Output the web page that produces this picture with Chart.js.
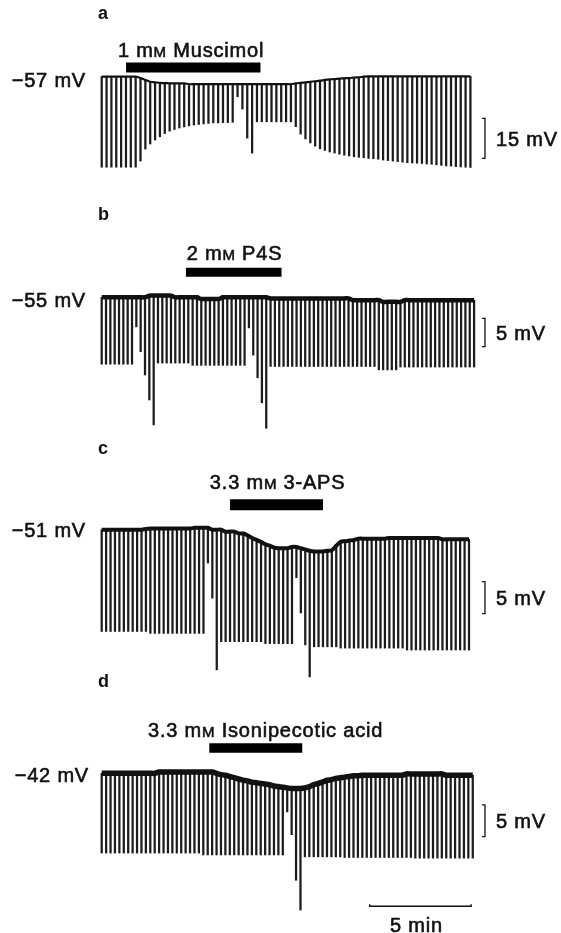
<!DOCTYPE html>
<html>
<head>
<meta charset="utf-8">
<script src="https://cdn.jsdelivr.net/npm/chart.js@4.4.1/dist/chart.umd.min.js"></script>
<style>
  html, body { margin: 0; padding: 0; background: #fff; }
  #fig { position: relative; width: 561px; height: 933px; overflow: hidden; }
  #fig canvas { position: absolute; left: 0; }
</style>
</head>
<body>
<div id="fig"></div>
<script>
// ---- data ----
const panelLetters = ['a', 'b', 'c', 'd'];
const restMv = [-57, -55, -51, -42];
const restLabels = ['\u221257 mV', '\u221255 mV', '\u221251 mV', '\u221242 mV'];
const drugLabels = ['1 mM Muscimol', '2 mM P4S', '3.3 mM 3-APS', '3.3 mM Isonipecotic acid'];
// drug application, minutes from first sweep
const drugOn = [1.2, 4.15, 6.32, 5.3];
const drugOff = [7.82, 8.86, 10.9, 9.88];
const scaleMv = [15, 5, 5, 5];
const scaleLabels = ['15 mV', '5 mV', '5 mV', '5 mV'];
const timeBarMin = 5;
const timeBarLabel = '5 min';
// interval between current pulses (min)
const sweepMin = [0.239, 0.2133, 0.218, 0.2176];

// membrane potential before each pulse (mV)
const aBase = [
  -57.0, -57.0, -57.0, -57.0, -57.0, -57.0, -57.0, -57.0, -57.5, -58.2,
  -58.9, -59.1, -59.3, -59.4, -59.5, -59.5, -59.5, -59.5, -59.8, -59.8,
  -59.8, -59.8, -59.8, -59.8, -59.8, -59.8, -59.8, -59.8, -59.8, -59.8,
  -59.8, -59.8, -59.8, -59.8, -59.8, -59.8, -59.8, -59.8, -59.8, -59.8,
  -59.5, -59.3, -59.1, -58.9, -58.7, -58.5, -58.2, -58.0, -57.9, -57.7,
  -57.6, -57.5, -57.3, -57.2, -57.0, -56.9, -56.9, -56.9, -56.9, -56.9,
  -56.9, -56.9, -56.9, -56.9, -56.9, -56.9, -56.9, -56.9, -56.9, -56.9,
  -56.9, -56.9, -56.9, -56.9, -56.9, -56.9, -56.9
];
// potential at the end of each pulse (mV)
const aPeak = [
  -90.9, -90.9, -90.9, -90.9, -90.9, -90.9, -90.9, -90.9, -88.6, -84.1,
  -82.2, -80.7, -79.5, -78.3, -77.4, -76.8, -76.2, -75.8, -75.4, -75.1,
  -74.9, -74.7, -74.5, -74.3, -74.3, -74.2, -74.2, -74.1, -64.5, -69.1,
  -80.0, -85.6, -73.9, -73.9, -73.9, -73.9, -73.9, -73.9, -73.9, -73.9,
  -75.7, -78.5, -80.3, -81.8, -83.0, -84.0, -84.6, -85.2, -85.6, -86.0,
  -86.4, -86.7, -87.0, -87.2, -87.4, -87.6, -87.7, -87.9, -88.2, -88.4,
  -88.6, -88.8, -89.0, -89.2, -89.3, -89.4, -89.5, -89.7, -89.8, -90.0,
  -90.2, -90.4, -90.5, -90.7, -90.8, -90.9, -91.0
];

const bBase = [
  -55.0, -55.0, -55.0, -55.0, -55.0, -55.0, -55.0, -55.0, -55.0, -55.0,
  -55.0, -54.7, -54.7, -54.7, -54.7, -54.7, -54.7, -55.0, -55.0, -55.0,
  -55.0, -55.0, -55.0, -55.3, -55.3, -55.3, -55.3, -55.3, -55.0, -55.0,
  -55.0, -55.0, -55.0, -55.0, -55.0, -55.0, -55.0, -55.0, -55.0, -55.2,
  -55.2, -55.2, -55.2, -55.2, -55.2, -55.2, -55.2, -55.2, -55.2, -55.2,
  -55.2, -55.2, -55.2, -55.2, -55.2, -55.2, -55.2, -55.2, -55.5, -55.5,
  -55.5, -55.5, -55.5, -55.5, -55.5, -55.8, -55.8, -55.8, -55.8, -55.8,
  -55.5, -55.5, -55.5, -55.5, -55.5, -55.5, -55.5, -55.5, -55.5, -55.5,
  -55.5, -55.5, -55.5, -55.5, -55.5, -55.5, -55.5
];
const bPeak = [
  -66.8, -66.8, -66.8, -66.8, -66.8, -66.8, -66.8, -66.8, -60.2, -64.6,
  -68.7, -73.1, -77.5, -66.6, -66.6, -66.6, -66.6, -66.6, -66.6, -66.6,
  -66.6, -67.0, -67.0, -67.0, -67.0, -67.0, -67.0, -67.0, -67.0, -67.0,
  -67.0, -67.0, -67.0, -67.0, -60.4, -65.2, -69.2, -73.6, -78.1, -67.2,
  -67.2, -67.2, -67.2, -67.2, -67.2, -67.2, -67.2, -67.2, -67.2, -67.2,
  -67.2, -67.2, -67.2, -67.2, -67.2, -67.2, -67.2, -67.2, -67.2, -67.2,
  -67.2, -67.2, -67.2, -67.2, -67.8, -67.8, -67.8, -67.8, -67.8, -67.3,
  -67.3, -67.3, -67.3, -67.3, -67.3, -67.3, -67.3, -67.3, -67.3, -67.3,
  -67.3, -67.3, -67.3, -67.3, -67.3, -67.3, -67.3
];

const cBase = [
  -51.0, -51.0, -51.0, -51.0, -51.0, -51.0, -51.0, -51.0, -51.0, -51.0,
  -50.9, -50.8, -50.8, -50.8, -50.8, -50.8, -50.8, -50.8, -50.8, -50.8,
  -50.8, -50.7, -50.7, -50.7, -50.7, -51.0, -51.0, -51.0, -51.3, -51.3,
  -51.3, -51.6, -51.6, -51.9, -52.3, -52.6, -52.9, -53.3, -53.5, -53.8,
  -53.9, -53.9, -53.9, -53.7, -53.7, -53.9, -54.1, -54.3, -54.4, -54.4,
  -54.4, -54.3, -54.2, -53.5, -52.9, -52.8, -52.7, -52.6, -52.4, -52.4,
  -52.4, -52.4, -52.4, -52.4, -52.4, -52.3, -52.3, -52.3, -52.3, -52.3,
  -52.3, -52.3, -52.3, -52.3, -52.3, -52.3, -52.3, -52.5, -52.5, -52.5,
  -52.5, -52.5, -52.5, -52.5
];
const cPeak = [
  -66.9, -66.9, -66.9, -66.9, -66.9, -66.9, -66.9, -66.9, -66.9, -66.9,
  -66.9, -67.2, -67.2, -67.2, -67.2, -67.2, -67.2, -67.2, -67.2, -67.2,
  -67.2, -67.2, -67.2, -67.2, -56.2, -61.7, -72.9, -68.5, -68.5, -68.5,
  -68.5, -68.5, -68.5, -68.5, -68.5, -68.5, -68.5, -68.8, -68.8, -68.8,
  -68.8, -68.8, -68.8, -68.8, -58.5, -64.0, -69.0, -74.0, -69.3, -69.3,
  -69.3, -69.3, -69.3, -69.3, -69.5, -69.5, -69.5, -69.5, -69.5, -69.5,
  -69.5, -69.5, -69.5, -69.5, -69.5, -69.5, -69.5, -69.5, -69.5, -69.8,
  -69.8, -69.8, -69.8, -69.8, -69.8, -69.8, -69.8, -69.8, -69.8, -69.8,
  -69.8, -69.8, -69.8, -69.8
];

const dBase = [
  -42.0, -42.0, -42.0, -42.0, -42.0, -42.0, -42.0, -42.0, -42.0, -42.0,
  -42.0, -42.0, -42.0, -41.8, -41.8, -41.8, -41.8, -41.8, -41.8, -41.8,
  -41.8, -41.8, -41.8, -41.8, -41.8, -41.8, -42.0, -42.2, -42.3, -42.5,
  -42.7, -42.9, -43.1, -43.2, -43.4, -43.5, -43.6, -43.7, -43.8, -44.0,
  -44.1, -44.2, -44.3, -44.4, -44.4, -44.4, -44.3, -44.1, -43.8, -43.6,
  -43.4, -43.1, -43.0, -42.8, -42.7, -42.6, -42.5, -42.4, -42.4, -42.3,
  -42.3, -42.3, -42.3, -42.3, -42.3, -42.3, -42.3, -42.3, -42.3, -42.1,
  -42.1, -42.1, -42.1, -42.1, -42.1, -42.1, -42.1, -42.1, -42.3, -42.3,
  -42.3, -42.3, -42.3, -42.3, -42.3
];
const dPeak = [
  -54.6, -54.6, -54.6, -54.6, -54.6, -54.6, -54.6, -54.6, -54.6, -54.6,
  -54.6, -54.6, -54.6, -54.6, -54.6, -54.6, -54.6, -54.6, -54.6, -54.6,
  -54.6, -54.6, -54.6, -54.9, -54.9, -54.9, -54.9, -54.9, -54.9, -54.9,
  -54.9, -54.9, -54.9, -54.9, -54.9, -54.9, -54.9, -54.9, -54.9, -54.9,
  -54.9, -54.9, -48.1, -51.7, -58.9, -63.6, -55.2, -55.2, -55.2, -55.2,
  -55.2, -55.2, -55.2, -55.2, -55.2, -55.3, -55.3, -55.3, -55.3, -55.3,
  -55.3, -55.3, -55.3, -55.3, -55.3, -55.3, -55.3, -55.3, -55.3, -55.3,
  -55.3, -55.4, -55.4, -55.4, -55.4, -55.4, -55.4, -55.4, -55.4, -55.4,
  -55.4, -55.4, -55.4, -55.4, -55.4
];

const baseMv = [aBase, bBase, cBase, dBase];
const peakMv = [aPeak, bPeak, cPeak, dPeak];

// ---- layout (page pixels) ----
const FIG_W = 561;
const PX_PER_MIN = 20.3;       // 5 min bar is ~101 px
const X_START = 101.7;         // first sweep
const AREA_L = 96, AREA_R = 482;
const FONT = '"Liberation Sans", Arial, Helvetica, sans-serif';
const TEXT_PX = 20;

const layout = [
  { top: 0,   h: 200, refY: 76.7,  pxPerMv: 2.67, traceW: 2.2, drugMv: -53.6, drugW: 10,
    letterY: 14, restY: 80, restX: 86, drugX: 191, drugY: 50, scaleTop: -72.6 },
  { top: 190, h: 250, refY: 297.3, pxPerMv: 5.67, traceW: 4.5, drugMv: -50.6, drugW: 9,
    letterY: 215, restY: 300, restX: 86, drugX: 234.5, drugY: 253, scaleTop: -58.7 },
  { top: 430, h: 260, refY: 529.7, pxPerMv: 6.4, traceW: 4, drugMv: -47.1, drugW: 11,
    letterY: 449, restY: 530, restX: 86, drugX: 277.6, drugY: 482, scaleTop: -59.1 },
  { top: 665, h: 268, refY: 773.3, pxPerMv: 6.33, traceW: 5.5, drugMv: -38.0, drugW: 9.5,
    letterY: 682, restY: 775, restX: 89, drugX: 265.6, drugY: 730, scaleTop: -47.0,
    timeStart: 13.2, timeMv: -63.0, timeTextY: 925 }
];

// "mM" is printed with a small capital M; a thin stroke thickens the type like the print
function drawText(ctx, text, x, cy, align) {
  const big = TEXT_PX + 'px ' + FONT, small = Math.round(TEXT_PX * 0.74) + 'px ' + FONT;
  const i = text.indexOf('mM');
  const parts = i < 0 ? [[text, big]] :
    [[text.slice(0, i + 1), big], ['M', small], [text.slice(i + 2), big]];
  ctx.letterSpacing = '0.8px';
  let w = 0;
  parts.forEach(p => { ctx.font = p[1]; w += ctx.measureText(p[0]).width; });
  let x0 = align === 'center' ? x - w / 2 : align === 'right' ? x - w : x;
  ctx.textAlign = 'left';
  ctx.textBaseline = 'alphabetic';
  ctx.lineWidth = 0.6;
  const yb = cy + TEXT_PX * 0.36;
  parts.forEach(p => {
    ctx.font = p[1];
    ctx.fillText(p[0], x0, yb);
    ctx.strokeText(p[0], x0, yb);
    x0 += ctx.measureText(p[0]).width;
  });
  ctx.letterSpacing = '0px';
}

const fig = document.getElementById('fig');

panelLetters.forEach((letter, k) => {
  const L = layout[k];
  const canvas = document.createElement('canvas');
  canvas.width = FIG_W;
  canvas.height = L.h;
  canvas.style.top = L.top + 'px';
  fig.appendChild(canvas);

  const refY = L.refY - L.top;
  const yMax = restMv[k] + refY / L.pxPerMv;
  const yMin = restMv[k] - (L.h - refY) / L.pxPerMv;
  const xMin = (AREA_L - X_START) / PX_PER_MIN;
  const xMax = (AREA_R - X_START) / PX_PER_MIN;

  const base = baseMv[k], peak = peakMv[k];
  const sweeps = base.map((b, i) => ({ x: i * sweepMin[k], y: [peak[i], b] }));
  const trace = base.map((b, i) => ({ x: i * sweepMin[k], y: b }));
  const drug = [{ x: drugOn[k], y: L.drugMv }, { x: drugOff[k], y: L.drugMv }];

  const annotate = {
    id: 'annotate' + k,
    afterDatasetsDraw(chart) {
      const ctx = chart.ctx, xs = chart.scales.x, ys = chart.scales.y;
      ctx.save();
      ctx.fillStyle = '#111';
      ctx.strokeStyle = '#111';

      ctx.font = 'bold 18px ' + FONT;
      ctx.textAlign = 'left';
      ctx.textBaseline = 'middle';
      ctx.fillText(letter, 98, L.letterY - L.top);

      drawText(ctx, restLabels[k], L.restX, L.restY - L.top, 'right');
      drawText(ctx, drugLabels[k], L.drugX, L.drugY - L.top, 'center');

      // voltage calibration bracket
      const sx = 485;
      const y1 = ys.getPixelForValue(L.scaleTop);
      const y2 = ys.getPixelForValue(L.scaleTop - scaleMv[k]);
      ctx.lineWidth = 1.3;
      ctx.beginPath();
      ctx.moveTo(sx - 3, y1); ctx.lineTo(sx, y1); ctx.lineTo(sx, y2); ctx.lineTo(sx - 3, y2);
      ctx.stroke();
      drawText(ctx, scaleLabels[k], 496, (y1 + y2) / 2, 'left');

      // time calibration
      if (L.timeStart !== undefined) {
        const tx1 = xs.getPixelForValue(L.timeStart);
        const tx2 = xs.getPixelForValue(L.timeStart + timeBarMin);
        const ty = ys.getPixelForValue(L.timeMv);
        ctx.lineWidth = 1.4;
        ctx.beginPath();
        ctx.moveTo(tx1, ty - 2); ctx.lineTo(tx1, ty); ctx.lineTo(tx2, ty); ctx.lineTo(tx2, ty - 2);
        ctx.stroke();
        drawText(ctx, timeBarLabel, (tx1 + tx2) / 2 - 4, L.timeTextY - L.top, 'center');
      }
      ctx.restore();
    }
  };

  new Chart(canvas, {
    type: 'bar',
    data: {
      datasets: [
        {
          type: 'bar', data: sweeps, backgroundColor: '#1c1c1c',
          barThickness: 1.6, grouped: false, order: 3
        },
        {
          type: 'line', data: trace, borderColor: '#111', borderWidth: L.traceW,
          pointRadius: 0, tension: 0.35, order: 2
        },
        {
          type: 'line', data: drug, borderColor: '#000', borderWidth: L.drugW,
          borderCapStyle: 'butt', pointRadius: 0, order: 1
        }
      ]
    },
    options: {
      responsive: false,
      animation: false,
      events: [],
      layout: { padding: { left: AREA_L, right: FIG_W - AREA_R, top: 0, bottom: 0 } },
      scales: {
        x: { type: 'linear', min: xMin, max: xMax, offset: false, display: false },
        y: { min: yMin, max: yMax, display: false }
      },
      plugins: { legend: { display: false }, tooltip: { enabled: false } }
    },
    plugins: [annotate]
  });
});
</script>
</body>
</html>
